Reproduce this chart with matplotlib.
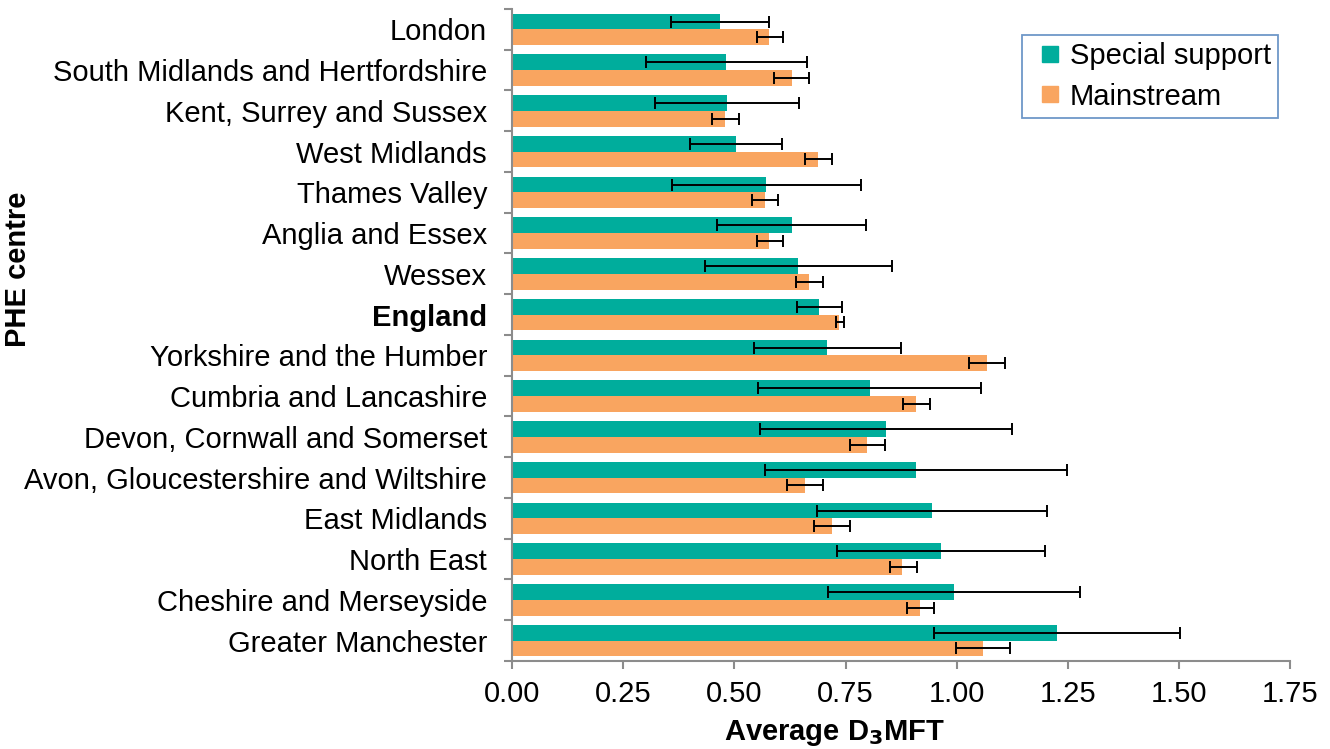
import numpy as np
import matplotlib.pyplot as plt
from matplotlib.lines import Line2D

plt.rcParams['font.family'] = ['Liberation Sans', 'DejaVu Sans']

# Data
centres = ['London', 'South Midlands and Hertfordshire', 'Kent, Surrey and Sussex',
           'West Midlands', 'Thames Valley', 'Anglia and Essex', 'Wessex', 'England',
           'Yorkshire and the Humber', 'Cumbria and Lancashire', 'Devon, Cornwall and Somerset',
           'Avon, Gloucestershire and Wiltshire', 'East Midlands', 'North East',
           'Cheshire and Merseyside', 'Greater Manchester']

special = [0.467, 0.482, 0.483, 0.503, 0.571, 0.629, 0.644, 0.691,
           0.709, 0.804, 0.841, 0.909, 0.945, 0.965, 0.993, 1.225]
special_lo = [0.357, 0.301, 0.322, 0.400, 0.360, 0.462, 0.435, 0.640,
              0.544, 0.554, 0.558, 0.570, 0.686, 0.732, 0.711, 0.949]
special_hi = [0.578, 0.663, 0.645, 0.607, 0.784, 0.797, 0.854, 0.742,
              0.875, 1.055, 1.124, 1.248, 1.203, 1.198, 1.277, 1.502]

mainstream = [0.578, 0.629, 0.480, 0.689, 0.568, 0.578, 0.669, 0.736,
              1.069, 0.909, 0.799, 0.660, 0.719, 0.878, 0.918, 1.059]
main_lo = [0.550, 0.590, 0.450, 0.659, 0.539, 0.550, 0.639, 0.729,
           1.028, 0.879, 0.759, 0.619, 0.679, 0.849, 0.889, 0.999]
main_hi = [0.610, 0.669, 0.511, 0.720, 0.599, 0.610, 0.699, 0.746,
           1.109, 0.940, 0.839, 0.699, 0.760, 0.910, 0.949, 1.119]

teal = '#00AD9C'
orange = '#F9A560'
grey = '#8C8C8C'

y = np.arange(len(centres))
h = 0.385

fig = plt.figure(figsize=(13.3, 7.49), dpi=100)
ax = fig.add_axes([0.385, 0.1175, 0.585, 0.8705])

sp = np.array(special)
ms = np.array(mainstream)
ax.barh(y - h / 2, sp, height=h, color=teal, zorder=2)
ax.barh(y + h / 2, ms, height=h, color=orange, zorder=2)

err_kw = dict(fmt='none', ecolor='black', elinewidth=1.4, capsize=4, capthick=1.4, zorder=3)
ax.errorbar(sp, y - h / 2, xerr=[sp - np.array(special_lo), np.array(special_hi) - sp], **err_kw)
ax.errorbar(ms, y + h / 2, xerr=[ms - np.array(main_lo), np.array(main_hi) - ms], **err_kw)

ax.set_ylim(len(centres) - 0.5, -0.5)
ax.set_xlim(0, 1.75)

# axes styling
for s in ['top', 'right']:
    ax.spines[s].set_visible(False)
for s in ['left', 'bottom']:
    ax.spines[s].set_color(grey)
    ax.spines[s].set_linewidth(1.5)

ax.set_xticks(np.arange(0, 1.76, 0.25))
ax.set_xticklabels(['%.2f' % v for v in np.arange(0, 1.76, 0.25)])
ax.tick_params(axis='x', length=6, width=1.5, color=grey, labelsize=21, pad=8)

ax.set_yticks(y)
ax.set_yticklabels(centres)
ax.set_yticks(np.arange(-0.5, len(centres), 1), minor=True)
ax.tick_params(axis='y', which='major', length=0, labelsize=21, pad=18)
ax.tick_params(axis='y', which='minor', length=6, width=1.5, color=grey)
for lab in ax.get_yticklabels():
    if lab.get_text() == 'England':
        lab.set_fontweight('bold')

ax.set_xlabel('Average D$_\\mathbf{3}$MFT', fontsize=21, fontweight='bold')
ax.xaxis.set_label_coords(0.414, -0.110)
ax.xaxis.label.set_va('center')
ax.set_ylabel('PHE centre', fontsize=21, fontweight='bold')
ax.yaxis.set_label_coords(-0.635, 0.601)
ax.yaxis.label.set_va('center')

handles = [Line2D([], [], linestyle='none', marker='s', markersize=11.5,
                  markerfacecolor=teal, markeredgecolor=teal),
           Line2D([], [], linestyle='none', marker='s', markersize=11.5,
                  markerfacecolor=orange, markeredgecolor=orange)]
leg = ax.legend(handles, ['Special support', 'Mainstream'],
                loc='upper right', bbox_to_anchor=(0.985, 0.96), fontsize=21,
                frameon=True, fancybox=False, borderaxespad=0,
                handlelength=1.4, handletextpad=0.0,
                labelspacing=0.42, borderpad=0.25)
leg.get_frame().set_edgecolor('#4A7EBB')
leg.get_frame().set_linewidth(1.3)

fig.savefig('out.png', dpi=100)
